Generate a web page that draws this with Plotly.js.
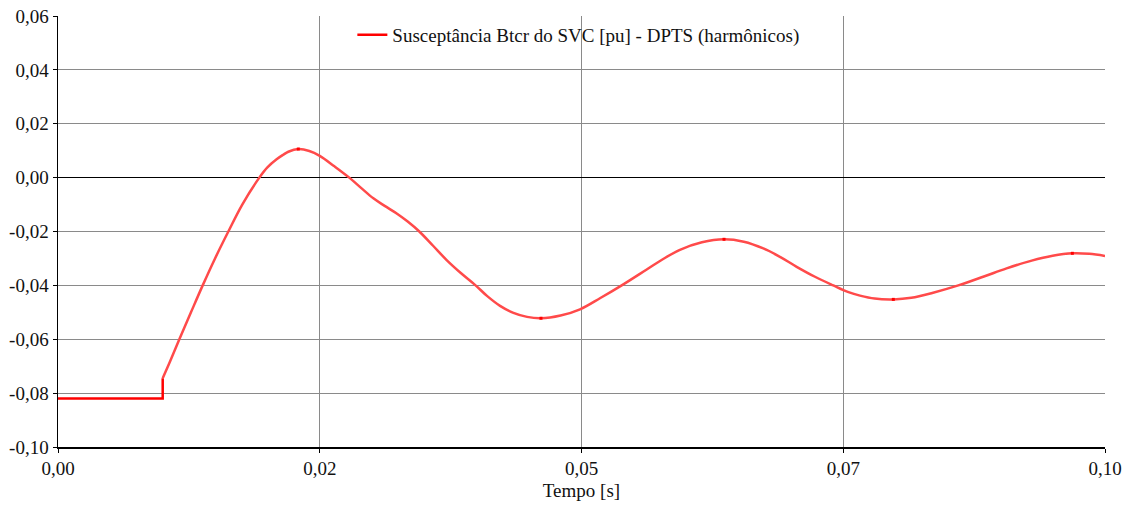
<!DOCTYPE html>
<html>
<head>
<meta charset="utf-8">
<script src="https://cdn.plot.ly/plotly-3.0.1.min.js"></script>
<style>html,body{margin:0;padding:0;background:#fff;}#chart{width:1128px;height:508px;}</style>
</head>
<body>
<div id="chart"></div>
<script>
// Pre-disturbance constant section (s, pu)
const stepTime = [0.0, 0.0100, 0.0100];
const stepValue = [-0.0820, -0.0820, -0.0745];

// Transient response after the step (s, pu)
const curveTime = [0.0100, 0.0107, 0.01159, 0.0127, 0.01382, 0.0150, 0.01627, 0.0176, 0.01923,
  0.0200, 0.02088, 0.02152, 0.0220, 0.02295, 0.0240, 0.0250, 0.0264, 0.02782, 0.0290,
  0.03012, 0.0312, 0.03235, 0.0334, 0.03451, 0.0358, 0.03712, 0.0385, 0.03983, 0.0410,
  0.04222, 0.0435, 0.0448, 0.04613, 0.0480, 0.04986, 0.0518, 0.05384, 0.05623, 0.0578,
  0.0594, 0.0615, 0.06361, 0.0655, 0.06737, 0.0690, 0.07055, 0.0723, 0.07405, 0.0755,
  0.0766, 0.0780, 0.07978, 0.0815, 0.0835, 0.08599, 0.0885, 0.0906, 0.0930, 0.0950,
  0.09688, 0.0985, 0.1000];
const curveValue = [-0.0745, -0.0683, -0.0600, -0.0500, -0.0400, -0.0300, -0.0200, -0.0100, 0.0000,
  0.0038, 0.0068, 0.0085, 0.0096, 0.0106, 0.0099, 0.0081, 0.0042, 0.0000, -0.0040,
  -0.0077, -0.0105, -0.0133, -0.0163, -0.0200, -0.0252, -0.0306, -0.0355, -0.0398, -0.0440,
  -0.0476, -0.0502, -0.0517, -0.0522, -0.0512, -0.0489, -0.0447, -0.0400, -0.0341, -0.0302,
  -0.0268, -0.0240, -0.0229, -0.0238, -0.0263, -0.0295, -0.0331, -0.0368, -0.0400, -0.0425,
  -0.0438, -0.0449, -0.0452, -0.0446, -0.0428, -0.0400, -0.0366, -0.0337, -0.0308, -0.0290,
  -0.0281, -0.0283, -0.0291];

// Extremum markers
const extremaTime = [0.02295, 0.04613, 0.06361, 0.07978, 0.09688];
const extremaValue = [0.0106, -0.0522, -0.0229, -0.0452, -0.0281];

const yTickVals = [0.06, 0.04, 0.02, 0.0, -0.02, -0.04, -0.06, -0.08, -0.10];
const yTickText = ["0,06", "0,04", "0,02", "0,00", "-0,02", "-0,04", "-0,06", "-0,08", "-0,10"];
const xTickVals = [0.0, 0.025, 0.05, 0.075, 0.1];
const xTickText = ["0,00", "0,02", "0,05", "0,07", "0,10"];

const seriesName = "Susceptância Btcr do SVC [pu] - DPTS (harmônicos)";
const FONT = "'Liberation Serif', 'Times New Roman', 'DejaVu Serif', serif";

const traces = [
  {x: stepTime, y: stepValue, type: "scatter", mode: "lines", name: seriesName,
   line: {color: "#ff0000", width: 2.5}, showlegend: true, hoverinfo: "skip"},
  {x: curveTime, y: curveValue, type: "scatter", mode: "lines", name: seriesName,
   line: {color: "#ff4a4a", width: 2.5, shape: "spline", smoothing: 1}, showlegend: false},
  {x: extremaTime, y: extremaValue, type: "scatter", mode: "markers", showlegend: false,
   marker: {color: "#ff0000", size: 3, symbol: "square"}, hoverinfo: "skip"}
];

const layout = {
  width: 1128, height: 508,
  margin: {l: 58, r: 23, t: 16, b: 61},
  paper_bgcolor: "#fff", plot_bgcolor: "#fff",
  font: {family: FONT, size: 19, color: "#111"},
  showlegend: true,
  legend: {x: 0.497, xanchor: "center", y: 1.0, yanchor: "top", bgcolor: "rgba(255,255,255,0)",
           font: {family: FONT, size: 19, color: "#111"}, itemwidth: 30},
  xaxis: {
    range: [0, 0.1], tickvals: xTickVals, ticktext: xTickText,
    showgrid: true, gridcolor: "#8a8a8a", gridwidth: 1,
    showline: true, linecolor: "#000", linewidth: 1.5,
    ticks: "outside", ticklen: 4, tickcolor: "#000",
    zeroline: false, fixedrange: true,
    tickfont: {family: FONT, size: 19, color: "#111"},
    title: {text: "Tempo [s]", font: {family: FONT, size: 19, color: "#111"}, standoff: 5}
  },
  yaxis: {
    range: [-0.10, 0.06], tickvals: yTickVals, ticktext: yTickText,
    showgrid: true, gridcolor: "#8a8a8a", gridwidth: 1,
    showline: true, linecolor: "#000", linewidth: 1.5,
    ticks: "outside", ticklen: 4, tickcolor: "#000",
    tickfont: {family: FONT, size: 19, color: "#111"},
    zeroline: true, zerolinecolor: "#000", zerolinewidth: 1.5, fixedrange: true
  }
};

Plotly.newPlot("chart", traces, layout, {displayModeBar: false, staticPlot: true});
</script>
</body>
</html>
